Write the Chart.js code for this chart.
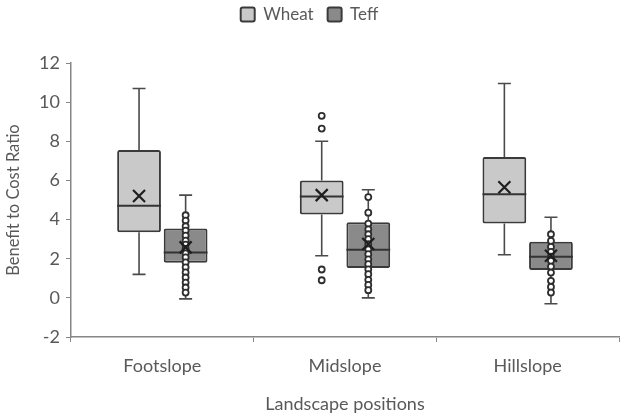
<!DOCTYPE html>
<html lang="en">
<head>
    <meta charset="UTF-8">
    <title>Benefit to Cost Ratio by Landscape Position</title>
    <script src="https://cdn.jsdelivr.net/npm/chart.js"></script>
    <style>
        body { margin: 0; background: white; }
        .chart-container { width: 624px; height: 419px; position: relative; }
    </style>
</head>
<body>
    <div class="chart-container"><canvas id="boxChart"></canvas></div>

    <script>
        // categories and box-plot summaries
        const categories = ['Footslope', 'Midslope', 'Hillslope'];
        const yTicks = [-2, 0, 2, 4, 6, 8, 10, 12];

        const wheatMin = [1.2, 2.15, 2.2];
        const wheatQ1 = [3.35, 4.26, 3.8];
        const wheatMedian = [4.7, 5.18, 5.3];
        const wheatQ3 = [7.55, 6.0, 7.2];
        const wheatMax = [10.7, 8.0, 10.95];
        const wheatMean = [5.2, 5.25, 5.65];
        const wheatPoints = [[], [9.3, 8.65, 1.45, 0.9], []];

        const teffMin = [-0.05, 0, -0.3];
        const teffQ1 = [1.8, 1.52, 1.42];
        const teffMedian = [2.32, 2.46, 2.1];
        const teffQ3 = [3.55, 3.86, 2.87];
        const teffMax = [5.25, 5.52, 4.12];
        const teffMean = [2.58, 2.75, 2.15];
        const teffPoints = [
            [4.22, 3.95, 3.66, 3.44, 3.18, 2.92, 2.72, 2.5, 2.27, 2.07, 1.81, 1.56, 1.3, 1.04, 0.78, 0.53, 0.27],
            [5.15, 4.35, 3.79, 3.5, 3.25, 3.0, 2.74, 2.48, 2.23, 1.97, 1.72, 1.46, 1.21, 0.92, 0.66, 0.39],
            [3.25, 2.91, 2.6, 2.35, 2.1, 1.89, 1.6, 1.29, 0.87, 0.56, 0.27]
        ];

        const series = [
            { min: wheatMin, q1: wheatQ1, med: wheatMedian, q3: wheatQ3, max: wheatMax, mean: wheatMean, pts: wheatPoints },
            { min: teffMin, q1: teffQ1, med: teffMedian, q3: teffQ3, max: teffMax, mean: teffMean, pts: teffPoints }
        ];

        const textColor = '#595959';
        const axisColor = '#868686';

        // whiskers, medians, points and mean markers on top of the floating bars
        const boxPlotPlugin = {
            id: 'boxPlot',
            afterDatasetsDraw(chart) {
                const ctx = chart.ctx;
                const y = chart.scales.y;
                series.forEach((s, d) => {
                    const meta = chart.getDatasetMeta(d);
                    meta.data.forEach((bar, i) => {
                        const x = bar.x, half = bar.width / 2;
                        const top = y.getPixelForValue(s.max[i]);
                        const bottom = y.getPixelForValue(s.min[i]);
                        ctx.save();
                        // whiskers
                        ctx.strokeStyle = '#4a4a4a';
                        ctx.lineWidth = 1.6;
                        ctx.beginPath();
                        ctx.moveTo(x, y.getPixelForValue(s.q3[i]));
                        ctx.lineTo(x, top);
                        ctx.moveTo(x, y.getPixelForValue(s.q1[i]));
                        ctx.lineTo(x, bottom);
                        ctx.moveTo(x - 6.5, top);
                        ctx.lineTo(x + 6.5, top);
                        ctx.moveTo(x - 6.5, bottom);
                        ctx.lineTo(x + 6.5, bottom);
                        ctx.stroke();
                        // median
                        ctx.strokeStyle = '#333';
                        ctx.lineWidth = 2;
                        ctx.beginPath();
                        ctx.moveTo(x - half, y.getPixelForValue(s.med[i]));
                        ctx.lineTo(x + half, y.getPixelForValue(s.med[i]));
                        ctx.stroke();
                        // points
                        ctx.lineWidth = 1.8;
                        ctx.strokeStyle = '#2e2e2e';
                        ctx.fillStyle = '#ffffff';
                        s.pts[i].forEach(v => {
                            ctx.beginPath();
                            ctx.arc(x, y.getPixelForValue(v), 3, 0, Math.PI * 2);
                            ctx.fill();
                            ctx.stroke();
                        });
                        // mean
                        const my = y.getPixelForValue(s.mean[i]);
                        ctx.strokeStyle = '#1e1e1e';
                        ctx.lineWidth = 2.2;
                        ctx.beginPath();
                        ctx.moveTo(x - 6, my - 6);
                        ctx.lineTo(x + 6, my + 6);
                        ctx.moveTo(x + 6, my - 6);
                        ctx.lineTo(x - 6, my + 6);
                        ctx.stroke();
                        ctx.restore();
                    });
                });
            }
        };

        // extra room under the legend
        const legendGap = {
            id: 'legendGap',
            beforeInit(chart) {
                const fit = chart.legend.fit;
                chart.legend.fit = function () {
                    fit.bind(chart.legend)();
                    this.height += 30;
                };
            }
        };

        const ctx = document.getElementById('boxChart').getContext('2d');
        new Chart(ctx, {
            type: 'bar',
            data: {
                labels: categories,
                datasets: [
                    {
                        label: 'Wheat',
                        data: categories.map((c, i) => [wheatQ1[i], wheatQ3[i]]),
                        backgroundColor: '#c9c9c9',
                        borderColor: '#3a3a3a',
                        borderWidth: 2,
                        borderRadius: 2,
                        borderSkipped: false,
                        categoryPercentage: 0.51,
                        barPercentage: 0.94
                    },
                    {
                        label: 'Teff',
                        data: categories.map((c, i) => [teffQ1[i], teffQ3[i]]),
                        backgroundColor: '#8a8a8a',
                        borderColor: '#3a3a3a',
                        borderWidth: 2,
                        borderRadius: 2,
                        borderSkipped: false,
                        categoryPercentage: 0.51,
                        barPercentage: 0.94
                    }
                ]
            },
            options: {
                responsive: true,
                maintainAspectRatio: false,
                animation: false,
                layout: { padding: { top: -8, right: 5, left: 0, bottom: 0 } },
                plugins: {
                    tooltip: { enabled: false },
                    legend: {
                        position: 'top',
                        labels: {
                            color: textColor,
                            font: { family: 'Lato', size: 17 },
                            boxWidth: 14,
                            boxHeight: 14,
                            padding: 14,
                            useBorderRadius: true,
                            borderRadius: 2
                        }
                    }
                },
                scales: {
                    x: {
                        grid: { offset: true, drawOnChartArea: false, tickLength: 5, color: axisColor },
                        border: { color: axisColor, width: 1.5 },
                        ticks: { color: textColor, font: { family: 'Lato', size: 18 }, padding: 13 },
                        title: { display: true, text: 'Landscape positions', color: textColor, font: { family: 'Lato', size: 18 }, padding: { top: 10 } },
                        afterFit(scale) { scale.height = 82; }
                    },
                    y: {
                        min: -2,
                        max: 12,
                        afterBuildTicks(scale) { scale.ticks = yTicks.map(v => ({ value: v })); },
                        grid: { drawOnChartArea: false, tickLength: 5, color: axisColor },
                        border: { color: axisColor, width: 1.5 },
                        ticks: { color: textColor, font: { family: 'Lato', size: 18 }, padding: 6 },
                        title: { display: true, text: 'Benefit to Cost Ratio', color: textColor, font: { family: 'Lato', size: 16.5 }, padding: { bottom: 2 } },
                        afterFit(scale) { scale.width = 71; }
                    }
                }
            },
            plugins: [boxPlotPlugin, legendGap]
        });
    </script>
</body>
</html>
